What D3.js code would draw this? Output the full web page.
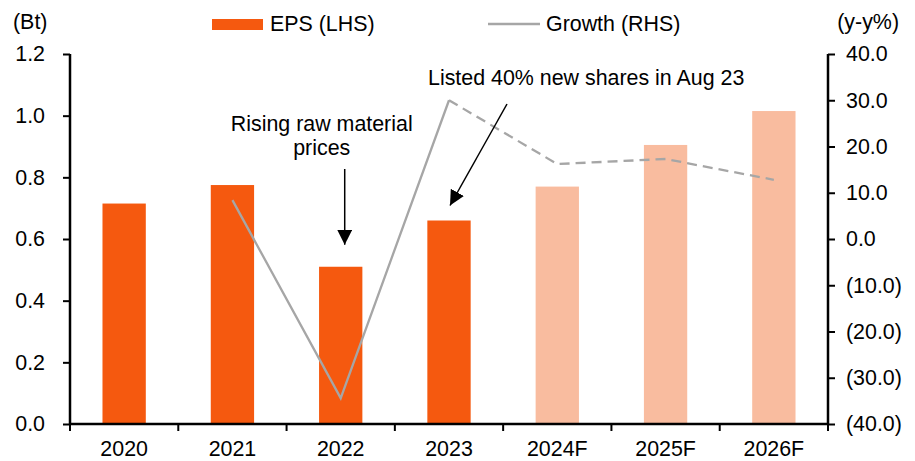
<!DOCTYPE html>
<html>
<head>
<meta charset="utf-8">
<script src="https://cdn.jsdelivr.net/npm/d3@7"></script>
<style>
  body { margin: 0; background: #fff; }
  svg { display: block; font-family: "Liberation Sans", Arial, sans-serif; }
</style>
</head>
<body>
<svg id="chart" width="915" height="461"></svg>
<script>
// data
const years = ["2020", "2021", "2022", "2023", "2024F", "2025F", "2026F"];
const eps = [0.715, 0.775, 0.51, 0.66, 0.77, 0.905, 1.015];
const isForecast = [false, false, false, false, true, true, true];
const growth = [null, 8.4, -34.4, 30.0, 16.2, 17.3, 12.8];
const leftTicks = [0, 0.2, 0.4, 0.6, 0.8, 1.0, 1.2];
const rightTicks = [-40, -30, -20, -10, 0, 10, 20, 30, 40];

const svg = d3.select("#chart");
const width = 915, height = 461;
const margin = { top: 54, right: 87, bottom: 37, left: 70 };
const chartW = width - margin.left - margin.right;
const chartH = height - margin.top - margin.bottom;
const fontSize = "21.4px";

const x = d3.scaleBand().domain(years).range([0, chartW]).paddingInner(0.6).paddingOuter(0.3);
const yL = d3.scaleLinear().domain([0, 1.2]).range([chartH, 0]);
const yR = d3.scaleLinear().domain([-40, 40]).range([chartH, 0]);
const cx = d => x(d) + x.bandwidth() / 2;

const g = svg.append("g").attr("transform", `translate(${margin.left},${margin.top})`);

// arrowhead marker
svg.append("defs").append("marker")
    .attr("id", "arrow")
    .attr("viewBox", "0 0 10 10")
    .attr("refX", 10).attr("refY", 5)
    .attr("markerWidth", 15).attr("markerHeight", 15)
    .attr("markerUnits", "userSpaceOnUse")
    .attr("orient", "auto")
    .append("path")
    .attr("d", "M0,0 L10,5 L0,10 Z")
    .attr("fill", "#000");

// bars
g.selectAll(".bar")
    .data(years.map((y, i) => ({ y, v: eps[i], f: isForecast[i] })))
    .enter().append("rect")
    .attr("class", "bar")
    .attr("x", d => x(d.y))
    .attr("width", x.bandwidth())
    .attr("y", d => yL(d.v))
    .attr("height", d => chartH - yL(d.v))
    .attr("fill", d => d.f ? "#F9BC9F" : "#F5590F");

// growth line: solid for actuals, dashed from 2023 on
const pts = years.map((y, i) => ({ y, v: growth[i] })).filter(d => d.v !== null);
const line = d3.line().x(d => cx(d.y)).y(d => yR(d.v));
const splitIdx = pts.findIndex(d => d.y === "2023");

g.append("path")
    .datum(pts.slice(0, splitIdx + 1))
    .attr("fill", "none")
    .attr("stroke", "#A6A6A6")
    .attr("stroke-width", 2.3)
    .attr("d", line);

g.append("path")
    .datum(pts.slice(splitIdx))
    .attr("fill", "none")
    .attr("stroke", "#A6A6A6")
    .attr("stroke-width", 2.3)
    .attr("stroke-dasharray", "10,6")
    .attr("d", line);

// left axis
const axL = g.append("g")
    .call(d3.axisLeft(yL).tickValues(leftTicks).tickFormat(d3.format(".1f")).tickSize(7).tickPadding(18));
// right axis
const axR = g.append("g")
    .attr("transform", `translate(${chartW},0)`)
    .call(d3.axisRight(yR).tickValues(rightTicks)
        .tickFormat(v => v < 0 ? `(${Math.abs(v).toFixed(1)})` : v.toFixed(1))
        .tickSize(7).tickPadding(11));
// bottom axis: labels only, ticks at category boundaries
const axB = g.append("g")
    .attr("transform", `translate(0,${chartH})`)
    .call(d3.axisBottom(x).tickSize(0).tickPadding(17));

[axL, axR, axB].forEach(a => {
    a.select(".domain").attr("stroke", "#000").attr("stroke-width", 2.5);
    a.selectAll(".tick line").attr("stroke", "#000").attr("stroke-width", 2);
    a.selectAll("text").attr("font-size", fontSize).attr("fill", "#000").style("font-family", "Liberation Sans, Arial, sans-serif");
});
axL.select(".domain").attr("d", `M0,0V${chartH}`);
axR.select(".domain").attr("d", `M0,0V${chartH}`);
axB.select(".domain").attr("d", `M0,0H${chartW}`);

const bounds = years.map(y => x(y) - x.step() * x.paddingInner() / 2).concat([chartW]);
bounds[0] = 0;
axB.selectAll(".bound")
    .data(bounds)
    .enter().append("line")
    .attr("x1", d => d).attr("x2", d => d)
    .attr("y1", 0).attr("y2", 7)
    .attr("stroke", "#000").attr("stroke-width", 2);

// axis unit labels
svg.append("text").attr("x", 13).attr("y", 29).attr("font-size", fontSize).text("(Bt)");
svg.append("text").attr("x", 899).attr("y", 29).attr("text-anchor", "end").attr("font-size", fontSize).text("(y-y%)");

// legend
const lg = svg.append("g");
lg.append("rect").attr("x", 212).attr("y", 19).attr("width", 51).attr("height", 11).attr("fill", "#F5590F");
lg.append("text").attr("x", 270).attr("y", 31).attr("font-size", fontSize).text("EPS (LHS)");
lg.append("line").attr("x1", 488).attr("x2", 540).attr("y1", 24).attr("y2", 24)
    .attr("stroke", "#A6A6A6").attr("stroke-width", 2.3);
lg.append("text").attr("x", 546).attr("y", 31).attr("font-size", fontSize).text("Growth (RHS)");

// annotation: raw material prices
const a1x = cx("2022") + 4;
const a1 = g.append("text").attr("text-anchor", "middle").attr("font-size", fontSize);
a1.append("tspan").attr("x", a1x - 23).attr("y", 131 - margin.top).text("Rising raw material");
a1.append("tspan").attr("x", a1x - 23).attr("y", 155 - margin.top).text("prices");
g.append("line")
    .attr("x1", a1x).attr("x2", a1x)
    .attr("y1", 169 - margin.top).attr("y2", yL(eps[2]) - 22)
    .attr("stroke", "#000").attr("stroke-width", 1.5)
    .attr("marker-end", "url(#arrow)");

// annotation: new shares
g.append("text").attr("x", 428 - margin.left).attr("y", 85 - margin.top)
    .attr("font-size", fontSize).text("Listed 40% new shares in Aug 23");
g.append("line")
    .attr("x1", 507 - margin.left).attr("y1", 104 - margin.top)
    .attr("x2", cx("2023") + 1).attr("y2", yL(eps[3]) - 15)
    .attr("stroke", "#000").attr("stroke-width", 1.5)
    .attr("marker-end", "url(#arrow)");
</script>
</body>
</html>
